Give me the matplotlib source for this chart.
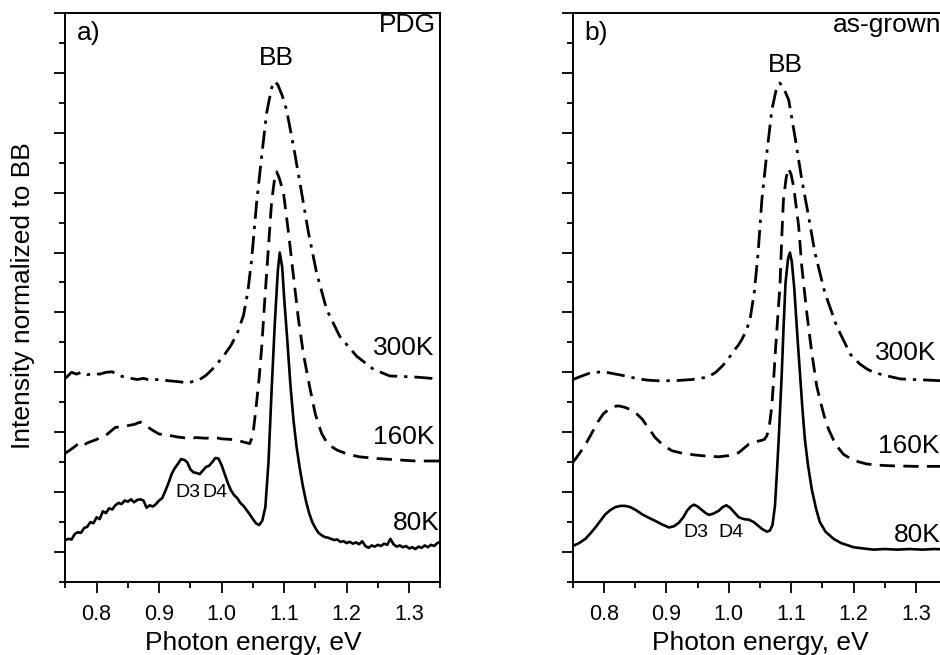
import matplotlib
matplotlib.use('Agg')
import matplotlib.pyplot as plt
from matplotlib.ticker import MultipleLocator

plt.rcParams['font.family'] = ['Liberation Sans', 'DejaVu Sans']

# panel a) PDG : photon energy (eV) / intensity (offset, normalised to BB)
pdg_80k_x = [0.750, 0.755, 0.760, 0.765, 0.770, 0.775, 0.780, 0.785, 0.790, 0.795,
             0.800, 0.805, 0.810, 0.815, 0.820, 0.825, 0.830, 0.835, 0.840, 0.845,
             0.850, 0.855, 0.860, 0.865, 0.870, 0.875, 0.880, 0.885, 0.890, 0.895,
             0.900, 0.905, 0.910, 0.915, 0.920, 0.925, 0.930, 0.935, 0.940, 0.945,
             0.950, 0.955, 0.960, 0.965, 0.970, 0.975, 0.980, 0.985, 0.990, 0.995,
             1.000, 1.005, 1.010, 1.015, 1.020, 1.025, 1.030, 1.035, 1.040, 1.045,
             1.050, 1.055, 1.060, 1.065, 1.070, 1.075, 1.080, 1.085, 1.090, 1.093,
             1.097, 1.100, 1.105, 1.110, 1.115, 1.120, 1.125, 1.130, 1.135, 1.140,
             1.145, 1.150, 1.155, 1.160, 1.165, 1.170, 1.175, 1.180, 1.185, 1.190,
             1.195, 1.200, 1.205, 1.210, 1.215, 1.220, 1.225, 1.230, 1.235, 1.240,
             1.245, 1.250, 1.255, 1.260, 1.265, 1.270, 1.275, 1.280, 1.285, 1.290,
             1.295, 1.300, 1.305, 1.310, 1.315, 1.320, 1.325, 1.330, 1.335, 1.340,
             1.345, 1.350]
pdg_80k_y = [0.20, 0.22, 0.21, 0.30, 0.33, 0.32, 0.40, 0.42, 0.50, 0.48,
             0.58, 0.55, 0.68, 0.65, 0.73, 0.71, 0.78, 0.82, 0.80, 0.86,
             0.84, 0.88, 0.83, 0.87, 0.88, 0.86, 0.74, 0.78, 0.76, 0.80,
             0.86, 0.90, 1.02, 1.15, 1.30, 1.40, 1.47, 1.55, 1.54, 1.50,
             1.38, 1.33, 1.32, 1.30, 1.36, 1.42, 1.44, 1.50, 1.57, 1.56,
             1.45, 1.30, 1.15, 1.03, 0.95, 0.90, 0.82, 0.77, 0.70, 0.63,
             0.55, 0.48, 0.45, 0.52, 0.75, 1.50, 2.70, 3.80, 4.70, 5.00,
             4.75, 4.25, 3.55, 2.80, 2.20, 1.75, 1.40, 1.10, 0.85, 0.65,
             0.50, 0.40, 0.32, 0.28, 0.25, 0.24, 0.22, 0.20, 0.21, 0.17,
             0.18, 0.15, 0.17, 0.14, 0.16, 0.13, 0.18, 0.10, 0.07, 0.11,
             0.09, 0.12, 0.10, 0.14, 0.12, 0.22, 0.13, 0.09, 0.11, 0.08,
             0.10, 0.06, 0.08, 0.05, 0.09, 0.07, 0.11, 0.08, 0.12, 0.10,
             0.15, 0.17]

pdg_160k_x = [0.750, 0.760, 0.770, 0.775, 0.785, 0.800, 0.815, 0.830, 0.845, 0.860,
              0.870, 0.880, 0.890, 0.900, 0.915, 0.930, 0.945, 0.960, 0.975, 0.990,
              1.000, 1.015, 1.030, 1.045, 1.050, 1.055, 1.060, 1.064, 1.069, 1.075,
              1.080, 1.085, 1.088, 1.092, 1.099, 1.107, 1.115, 1.123, 1.131, 1.141,
              1.150, 1.160, 1.170, 1.185, 1.200, 1.220, 1.250, 1.280, 1.310, 1.350]
pdg_160k_y = [1.65, 1.72, 1.80, 1.76, 1.82, 1.88, 1.95, 2.08, 2.10, 2.13,
              2.17, 2.10, 2.03, 1.97, 1.95, 1.92, 1.90, 1.91, 1.90, 1.91,
              1.89, 1.88, 1.85, 1.81, 1.95, 2.40, 2.90, 3.40, 4.20, 5.10,
              5.85, 6.25, 6.35, 6.25, 6.00, 5.33, 4.60, 3.88, 3.30, 2.75,
              2.30, 1.98, 1.80, 1.70, 1.64, 1.59, 1.56, 1.54, 1.52, 1.52]

pdg_300k_x = [0.750, 0.755, 0.760, 0.768, 0.775, 0.785, 0.795, 0.805, 0.815, 0.825,
              0.835, 0.845, 0.855, 0.865, 0.875, 0.885, 0.895, 0.905, 0.915, 0.925,
              0.935, 0.945, 0.955, 0.965, 0.975, 0.985, 0.995, 1.005, 1.015, 1.025,
              1.035, 1.042, 1.048, 1.056, 1.064, 1.072, 1.080, 1.085, 1.090, 1.097,
              1.104, 1.117, 1.128, 1.139, 1.152, 1.168, 1.189, 1.216, 1.243, 1.269,
              1.290, 1.312, 1.335, 1.350]
pdg_300k_y = [2.90, 2.95, 3.00, 2.97, 3.00, 2.96, 2.98, 2.97, 3.00, 3.01,
              2.95, 2.92, 2.90, 2.88, 2.90, 2.87, 2.88, 2.87, 2.86, 2.85,
              2.84, 2.82, 2.85, 2.88, 2.95, 3.05, 3.17, 3.30, 3.45, 3.65,
              3.95, 4.35, 4.88, 5.83, 6.60, 7.33, 7.75, 7.86, 7.80, 7.62,
              7.38, 6.66, 6.00, 5.33, 4.66, 4.05, 3.60, 3.27, 3.05, 2.94,
              2.93, 2.92, 2.90, 2.88]

# panel b) as-grown
ag_80k_x = [0.750, 0.760, 0.770, 0.778, 0.786, 0.794, 0.802, 0.810, 0.818, 0.826,
            0.834, 0.842, 0.851, 0.861, 0.872, 0.882, 0.893, 0.904, 0.912, 0.920,
            0.927, 0.933, 0.939, 0.944, 0.950, 0.957, 0.963, 0.968, 0.975, 0.984,
            0.990, 0.996, 1.002, 1.009, 1.016, 1.024, 1.032, 1.040, 1.047, 1.054,
            1.061, 1.066, 1.070, 1.074, 1.077, 1.080, 1.085, 1.088, 1.091, 1.095,
            1.098, 1.101, 1.105, 1.110, 1.114, 1.118, 1.122, 1.127, 1.133, 1.140,
            1.146, 1.155, 1.168, 1.180, 1.200, 1.215, 1.232, 1.250, 1.270, 1.290,
            1.310, 1.330, 1.350]
ag_80k_y = [0.10, 0.15, 0.22, 0.31, 0.41, 0.52, 0.63, 0.70, 0.75, 0.77,
            0.77, 0.75, 0.70, 0.63, 0.57, 0.52, 0.46, 0.41, 0.43, 0.49,
            0.58, 0.69, 0.76, 0.79, 0.76, 0.70, 0.65, 0.62, 0.64, 0.69,
            0.75, 0.78, 0.74, 0.66, 0.58, 0.55, 0.54, 0.50, 0.44, 0.38,
            0.34, 0.36, 0.45, 0.77, 1.30, 1.88, 3.00, 3.80, 4.50, 4.90,
            5.00, 4.85, 4.40, 3.60, 3.00, 2.40, 1.88, 1.45, 1.05, 0.72,
            0.50, 0.34, 0.22, 0.15, 0.08, 0.06, 0.04, 0.05, 0.04, 0.05,
            0.04, 0.05, 0.04]

ag_160k_x = [0.750, 0.756, 0.764, 0.772, 0.781, 0.791, 0.799, 0.807, 0.815, 0.823,
             0.832, 0.842, 0.852, 0.861, 0.871, 0.882, 0.895, 0.909, 0.925, 0.946,
             0.965, 0.984, 1.000, 1.016, 1.024, 1.032, 1.042, 1.051, 1.057, 1.061,
             1.065, 1.069, 1.072, 1.075, 1.077, 1.082, 1.085, 1.0876, 1.092, 1.0956,
             1.100, 1.104, 1.112, 1.117, 1.125, 1.133, 1.141, 1.146, 1.153, 1.160,
             1.171, 1.184, 1.200, 1.221, 1.240, 1.259, 1.300, 1.350]
ag_160k_y = [1.50, 1.58, 1.70, 1.83, 2.00, 2.19, 2.31, 2.38, 2.43, 2.44,
             2.42, 2.38, 2.31, 2.22, 2.07, 1.91, 1.78, 1.69, 1.65, 1.62,
             1.60, 1.59, 1.61, 1.66, 1.73, 1.80, 1.84, 1.86, 1.88, 1.94,
             2.10, 2.44, 2.90, 3.40, 3.70, 4.44, 5.27, 5.88, 6.25, 6.41,
             6.30, 6.10, 5.44, 4.77, 4.00, 3.33, 2.77, 2.55, 2.27, 2.05,
             1.80, 1.63, 1.53, 1.47, 1.45, 1.44, 1.43, 1.43]

ag_300k_x = [0.750, 0.762, 0.775, 0.787, 0.799, 0.814, 0.829, 0.842, 0.855, 0.870,
             0.885, 0.898, 0.912, 0.927, 0.941, 0.955, 0.968, 0.979, 0.989, 0.999,
             1.008, 1.015, 1.021, 1.028, 1.034, 1.041, 1.047, 1.053, 1.061, 1.069,
             1.076, 1.082, 1.089, 1.096, 1.106, 1.117, 1.128, 1.138, 1.154, 1.173,
             1.195, 1.210, 1.221, 1.232, 1.254, 1.275, 1.296, 1.320, 1.340, 1.350]
ag_300k_y = [2.88, 2.93, 2.98, 3.00, 3.01, 2.98, 2.95, 2.92, 2.89, 2.87,
             2.86, 2.86, 2.86, 2.87, 2.88, 2.90, 2.93, 3.00, 3.10, 3.22,
             3.36, 3.45, 3.55, 3.70, 3.88, 4.35, 5.00, 5.88, 6.66, 7.38,
             7.72, 7.83, 7.72, 7.55, 6.94, 6.22, 5.60, 5.00, 4.33, 3.77,
             3.30, 3.14, 3.06, 3.00, 2.94, 2.89, 2.88, 2.87, 2.86, 2.86]

x_ticks = [0.8, 0.9, 1.0, 1.1, 1.2, 1.3]

dash = (0, (5.5, 3))
dashdot = (0, (6.5, 2.5, 1.2, 2.5))

fig = plt.figure(figsize=(9.4, 6.55), dpi=100)
ax_a = fig.add_axes([0.0695, 0.1115, 0.399, 0.8687])
ax_b = fig.add_axes([0.6095, 0.1115, 0.398, 0.8687])

panels = [
    (ax_a, pdg_80k_x, pdg_80k_y, pdg_160k_x, pdg_160k_y, pdg_300k_x, pdg_300k_y),
    (ax_b, ag_80k_x, ag_80k_y, ag_160k_x, ag_160k_y, ag_300k_x, ag_300k_y),
]
for ax, x80, y80, x160, y160, x300, y300 in panels:
    ax.plot(x80, y80, color='black', lw=1.9, linestyle='-')
    ax.plot(x160, y160, color='black', lw=2.0, linestyle=dash)
    ax.plot(x300, y300, color='black', lw=2.0, linestyle=dashdot)
    ax.set_xlim(0.75, 1.35)
    ax.set_ylim(-0.5, 9)
    ax.set_xticks(x_ticks)
    ax.xaxis.set_minor_locator(MultipleLocator(0.05))
    ax.yaxis.set_major_locator(MultipleLocator(1))
    ax.yaxis.set_minor_locator(MultipleLocator(0.5))
    ax.set_yticklabels([])
    ax.tick_params(which='major', direction='out', length=8, width=1.3, labelsize=15.5, pad=8)
    ax.tick_params(which='minor', direction='out', length=4.5, width=1.3)
    ax.tick_params(axis='x', which='both', top=False)
    ax.tick_params(axis='y', which='both', right=False)
    for sp in ax.spines.values():
        sp.set_linewidth(1.4)
    ax.set_xlabel('Photon energy, eV', fontsize=19, labelpad=4)

ax_a.set_ylabel('Intensity normalized to BB', fontsize=19)
ax_a.yaxis.set_label_coords(-0.08, 0.503)

# annotations, panel a)
ax_a.text(0.769, 8.67, 'a)', fontsize=19, va='center', ha='left')
ax_a.text(1.3435, 8.80, 'PDG', fontsize=19, va='center', ha='right')
ax_a.text(1.087, 8.24, 'BB', fontsize=19, va='center', ha='center')
ax_a.text(1.341, 3.40, '300K', fontsize=19, va='center', ha='right')
ax_a.text(1.341, 1.92, '160K', fontsize=19, va='center', ha='right')
ax_a.text(1.348, 0.48, '80K', fontsize=19, va='center', ha='right')
ax_a.text(0.946, 1.00, 'D3', fontsize=14, va='center', ha='center')
ax_a.text(0.990, 1.00, 'D4', fontsize=14, va='center', ha='center')

# annotations, panel b)
ax_b.text(0.768, 8.67, 'b)', fontsize=19, va='center', ha='left')
ax_b.text(1.167, 8.80, 'as-grown', fontsize=19, va='center', ha='left')
ax_b.text(1.091, 8.13, 'BB', fontsize=19, va='center', ha='center')
ax_b.text(1.235, 3.32, '300K', fontsize=19, va='center', ha='left')
ax_b.text(1.240, 1.77, '160K', fontsize=19, va='center', ha='left')
ax_b.text(1.264, 0.28, '80K', fontsize=19, va='center', ha='left')
ax_b.text(0.947, 0.33, 'D3', fontsize=14, va='center', ha='center')
ax_b.text(1.004, 0.33, 'D4', fontsize=14, va='center', ha='center')

fig.savefig('out.png', dpi=100)
